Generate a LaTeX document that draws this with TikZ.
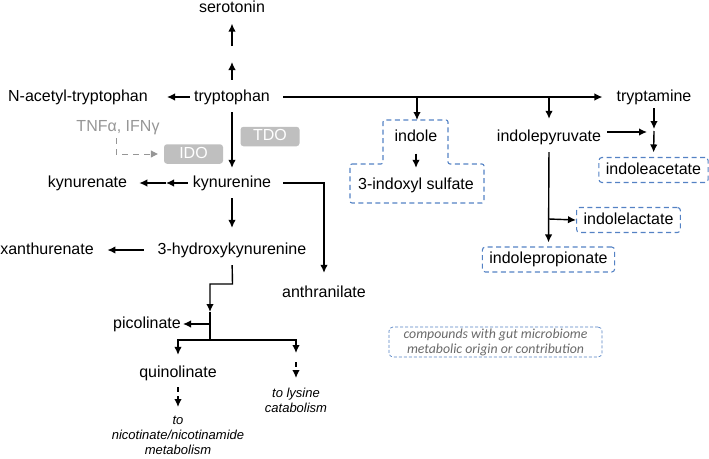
\documentclass[tikz,border=0pt]{standalone}
\usepackage{fontspec}
\setmainfont{Liberation Sans}
\newfontfamily\keyfont{Carlito}
\usepackage{tikz}
\usetikzlibrary{calc}
\usetikzlibrary{arrows.meta}
\definecolor{gutblue}{RGB}{84,130,196}
\definecolor{enzgray}{RGB}{191,191,191}
\definecolor{cytogray}{RGB}{150,150,150}
\definecolor{keygray}{RGB}{105,105,105}
\tikzset{
  met/.style={font=\fontsize{16}{19}\selectfont, text height=11.5pt, text depth=3.4pt, inner sep=1pt},
  gutline/.style={draw=gutblue, line width=1.1pt, dash pattern=on 5pt off 3.5pt},
  gut/.style={met, gutline, rounded corners=3pt, inner xsep=7pt, minimum height=25pt},
  enzyme/.style={met, fill=enzgray, text=white, rounded corners=3pt, minimum width=59pt, minimum height=19.5pt},
  route/.style={line width=1.4pt, -{Latex[length=8pt,width=7.5pt]}},
  route dash/.style={route, dash pattern=on 5pt off 4pt},
  side note/.style={font=\fontsize{13}{15}\selectfont\itshape, align=center, inner sep=0pt},
}
\begin{document}
\begin{tikzpicture}[x=1pt,y=-1pt]
  \useasboundingbox (0,0) rectangle (709,458);

  % host pathway
  \node[met] (serotonin) at (232,8.5) {serotonin};
  \node[met] (trp) at (232,97) {tryptophan};
  \node[met] (nac) at (78,97) {N-acetyl-tryptophan};
  \node[met] (kyn) at (232,183) {kynurenine};
  \node[met] (kyna) at (87.5,183) {kynurenate};
  \node[met] (hk) at (232,250) {3-hydroxykynurenine};
  \node[met] (xa) at (47,250) {xanthurenate};
  \node[met] (anth) at (324,293) {anthranilate};
  \node[met] (pic) at (147,324) {picolinate};
  \node[met] (quin) at (178,373) {quinolinate};
  \node[side note, anchor=north] (lys) at (296,388) {to lysine\\catabolism};
  \node[side note, anchor=north] (nic) at (178,416) {to\\nicotinate/nicotinamide\\metabolism};

  \node[enzyme] (ido) at (193.5,154) {IDO};
  \node[enzyme] (tdo) at (270,136.5) {TDO};
  \node[met, text=cytogray] (cyto) at (118,127) {TNFα, IFNγ};

  % microbial side
  \node[met] (tryptamine) at (654,97) {tryptamine};
  \node[met] (indole) at (416,137) {indole};
  \node[met] (indoxyl) at (416,185) {3-indoxyl sulfate};
  \node[met] (ipyr) at (549,137) {indolepyruvate};
  \node[gut] (iaa) at (653.5,170) {indoleacetate};
  \node[gut] (ila) at (628.5,220) {indolelactate};
  \node[gut] (ipa) at (548.5,259.5) {indolepropionate};
  \draw[gutline, rounded corners=2pt] (350,164) -- (383,164) -- (383,120) -- (448,120)
    -- (448,164) -- (484,164) -- (484,203) -- (350,203) -- cycle;

  \node[draw=gutblue, line width=0.7pt, dash pattern=on 3pt off 2pt, rounded corners=4pt,
        minimum width=213pt, minimum height=30pt, align=center, text=keygray, inner sep=0pt,
        font=\keyfont\fontsize{13.8}{15}\selectfont\itshape] (legend) at (495.5,342)
        {compounds with gut microbiome\\metabolic origin or contribution};

  % junctions
  \coordinate (s1) at (232,62);
  \coordinate (s2) at (232,46);
  \coordinate (jIndole) at (417,97);
  \coordinate (indoleTop) at (417,120);
  \coordinate (jIpyr) at (549,97);
  \coordinate (jIaa) at (654,132);
  \coordinate (jIla) at (549,219);
  \coordinate (kmid) at (166,183);
  \coordinate (jA) at (232.5,284);
  \coordinate (jB) at (210,312);
  \coordinate (jP) at (210,324);
  \coordinate (jC) at (210,340);
  \coordinate (lysHead) at (296,353);

  % connectors
  \draw[route, shorten <=8.5pt] (trp.north) -- (s1);
  \draw[route, shorten >=6.5pt] (s2) -- (serotonin.south);
  \draw[route, shorten <=3pt, shorten >=18pt] (trp.west) -- (nac.east);
  \draw[route, shorten <=12pt, shorten >=13pt] (trp.east) -- (tryptamine.west);
  \draw[route, shorten <=6.5pt, shorten >=6.5pt] (trp.south) -- (kyn.north);
  \draw[route, shorten <=4pt] (kyn.west) -- (kmid);
  \draw[route, shorten >=11pt] (kmid) -- (kyna.east);
  \draw[route, shorten <=11pt, shorten >=11.5pt] (kyn.east) -| (anth.north);
  \draw[route, shorten <=6.5pt, shorten >=13.5pt] (kyn.south) -- (hk.north);
  \draw[route, shorten <=13pt, shorten >=12.5pt] (hk.west) -- (xa.east);
  \draw[route, shorten <=6.5pt] (hk.south) -- (jA) -| (jB);
  \draw[line width=1.4pt] (jB) -- (jC);
  \draw[route, shorten >=1pt] (jP) -- (pic.east);
  \draw[route, shorten >=9.5pt] (jC) -| (quin.north);
  \draw[route] (jC) -| (lysHead);
  \draw[route dash, shorten <=9pt, shorten >=10pt] (lysHead) -- (lys.north);
  \draw[route dash, shorten <=5.5pt, shorten >=9pt] (quin.south) -- (nic.north);

  \draw[cytogray, line width=1pt, dash pattern=on 6pt off 5pt, -{Triangle[length=7pt,width=7pt]},
        shorten <=2.5pt, shorten >=6pt]
    ([xshift=-2pt]cyto.south) |- (ido.west);

  \draw[route] (jIndole) -- (indoleTop);
  \draw[route, shorten <=8pt, shorten >=8.5pt] (indole.south) -- (indoxyl.north);
  \draw[route, shorten >=9.5pt] (jIpyr) -- (ipyr.north);
  \draw[route, shorten <=2.5pt, shorten >=3pt] (tryptamine.south) -- (jIaa);
  \draw[route, shorten <=-1pt, shorten >=4.5pt] (jIaa) -- (iaa.north);
  \draw[route, shorten <=5pt, shorten >=7pt] (ipyr.east |- jIaa) -- (jIaa);
  \draw[route, shorten <=6.5pt, shorten >=4pt] (ipyr.south) -- (ipa.north);
  \draw[route] (jIla) -- (ila.west);
\end{tikzpicture}
\end{document}
